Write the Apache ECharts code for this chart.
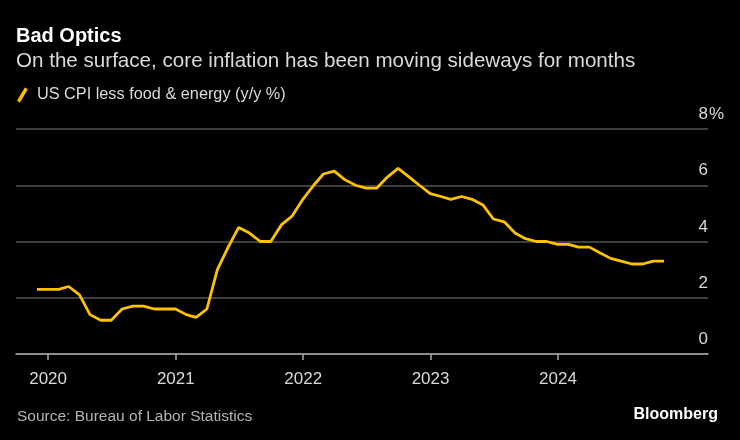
<!DOCTYPE html>
<html><head><meta charset="utf-8">
<script src="https://cdn.jsdelivr.net/npm/echarts@6/dist/echarts.min.js"></script>
<style>html,body{margin:0;padding:0;background:#000;}#c{width:740px;height:440px;}</style>
</head><body><div id="c"></div>
<script>
const title = 'Bad Optics';
const subtitle = 'On the surface, core inflation has been moving sideways for months';
const seriesName = 'US CPI less food & energy (y/y %)';
const source = 'Source: Bureau of Labor Statistics';
const months = [
 '2019-11','2019-12',
 '2020-01','2020-02','2020-03','2020-04','2020-05','2020-06','2020-07','2020-08','2020-09','2020-10','2020-11','2020-12',
 '2021-01','2021-02','2021-03','2021-04','2021-05','2021-06','2021-07','2021-08','2021-09','2021-10','2021-11','2021-12',
 '2022-01','2022-02','2022-03','2022-04','2022-05','2022-06','2022-07','2022-08','2022-09','2022-10','2022-11','2022-12',
 '2023-01','2023-02','2023-03','2023-04','2023-05','2023-06','2023-07','2023-08','2023-09','2023-10','2023-11','2023-12',
 '2024-01','2024-02','2024-03','2024-04','2024-05','2024-06','2024-07','2024-08','2024-09','2024-10'
];
const values = [
 2.3,2.3,
 2.3,2.4,2.1,1.4,1.2,1.2,1.6,1.7,1.7,1.6,1.6,1.6,
 1.4,1.3,1.6,3.0,3.8,4.5,4.3,4.0,4.0,4.6,4.9,5.5,
 6.0,6.4,6.5,6.2,6.0,5.9,5.9,6.3,6.6,6.3,6.0,5.7,
 5.6,5.5,5.6,5.5,5.3,4.8,4.7,4.3,4.1,4.0,4.0,3.9,
 3.9,3.8,3.8,3.6,3.4,3.3,3.2,3.2,3.3,3.3
];
const yearTicks = [2020,2021,2022,2023,2024];
const yTicks = [0,2,4,6,8];

function monthEnd(s){ const [y,m]=s.split('-').map(Number); return Date.UTC(y, m, 0); }
const data = months.map((m,i)=>[monthEnd(m), values[i]]);
const tickTimes = yearTicks.map(y=>Date.UTC(y,0,1));

const chart = echarts.init(document.getElementById('c'), null, {renderer:'canvas'});
const FONT = '"Liberation Sans", Arial, sans-serif';
chart.setOption({
  backgroundColor:'#000',
  animation:false,
  textStyle:{fontFamily:FONT},
  title:[
    {text:title, left:16, top:26, padding:0, textStyle:{color:'#fff', fontSize:20, fontWeight:'bold', fontFamily:FONT}},
    {text:subtitle, left:16, top:51, padding:0, textStyle:{color:'#d9d9d9', fontSize:20.6, fontWeight:'normal', fontFamily:FONT}},
    {text:source, left:17, top:409, padding:0, textStyle:{color:'#b3b3b3', fontSize:15.5, fontWeight:'normal', fontFamily:FONT}},
    {text:'Bloomberg', right:22, top:407, padding:0, textStyle:{color:'#fff', fontSize:16, fontWeight:'bold', fontFamily:FONT}}
  ],
  legend:{
    left:17, top:87, padding:0, itemWidth:15, itemHeight:15, itemGap:8,
    icon:'path://M0,13.5 L8,0 L11,1.8 L3,15.3 Z',
    textStyle:{color:'#d9d9d9', fontSize:16.3, fontFamily:FONT, padding:[1,0,0,2]},
    data:[seriesName]
  },
  grid:{left:16, right:32, top:129, bottom:86},
  xAxis:{
    type:'value',
    min:Date.UTC(2019,9,1),
    max:Date.UTC(2025,2,6),
    axisLine:{show:true, lineStyle:{color:'#a6a6a6', width:1.5}},
    axisTick:{show:true, length:6, customValues:tickTimes, lineStyle:{color:'#a6a6a6', width:1.5}},
    axisLabel:{customValues:tickTimes, color:'#d9d9d9', fontSize:17, margin:17, fontFamily:FONT,
      formatter:(v)=>String(new Date(v).getUTCFullYear())},
    splitLine:{show:false}
  },
  yAxis:{
    type:'value', position:'right', min:0, max:8, interval:2,
    axisLine:{show:false}, axisTick:{show:false},
    axisLabel:{inside:true, align:'right', verticalAlign:'bottom', margin:0, padding:[0,0,6,0],
      color:'#d9d9d9', fontSize:17, fontFamily:FONT,
      formatter:(v)=>String(v)},
    splitLine:{lineStyle:{color:'#555', width:1.5}}
  },
  graphic:[
    {type:'text', left:709, top:106, style:{text:'%', fill:'#d9d9d9', font:'17px '+FONT}}
  ],
  series:[{
    name:seriesName, type:'line', data:data, showSymbol:false,
    lineStyle:{color:'#FCC200', width:2.8}, itemStyle:{color:'#FCC200'}
  }]
});
</script></body></html>
